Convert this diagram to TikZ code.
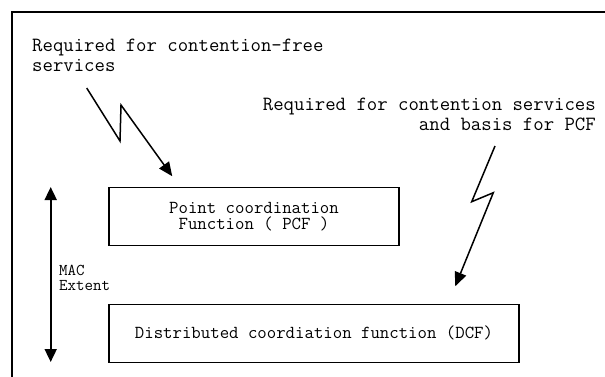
\documentclass[tikz,border=0pt]{standalone}
\usepackage{fontspec}
\usetikzlibrary{arrows.meta,calc}
\begin{document}
\begin{tikzpicture}[x=1pt,y=-1pt,
  lbl/.style={inner sep=0pt, font=\ttfamily\fontsize{20.2}{20}\selectfont},
  small/.style={inner sep=0pt, align=left, font=\ttfamily\fontsize{16.5}{15}\selectfont},
  fbox/.style={draw, line width=1.5pt, inner sep=0pt, align=center,
    font=\ttfamily\fontsize{18.3}{16.5}\selectfont},
  bolt/.style={line width=1.5pt, -{Triangle[length=14pt,width=12pt]}},
  extent/.style={line width=1.8pt, {Triangle[length=13pt,width=12pt]}-{Triangle[length=13pt,width=12pt]}}]
\useasboundingbox (0,0) rectangle (605,376);
% frame
\draw[line width=2pt] (12,377) -- (12,12) -- (606,12);
% labels
\node[lbl, anchor=base west] (l1a) at (32,51) {Required for contention-free};
\node[lbl, anchor=base west] (l1b) at (32,71) {services};
\node[lbl, anchor=base east] (l2a) at (596,110) {Required for contention services};
\node[lbl, anchor=base east] (l2b) at (596,130) {and basis for PCF};
% boxes
\node[fbox, minimum width=290pt, minimum height=58.4pt] (pcf) at (254,216.5)
  {Point coordination\\Function ( PCF )};
\node[fbox, minimum width=410pt, minimum height=58pt] (dcf) at (314,333.3)
  {Distributed coordiation function (DCF)};
% MAC extent
\coordinate (mtop) at (50.7,187);
\coordinate (mbot) at (50.7,362);
\draw[extent] (mtop) -- (mbot);
\node[small, anchor=north west] (mac) at (59,265) {MAC\\Extent};
% lightning arrows
\coordinate (a1s) at (86.7,88);
\coordinate (a1t) at ($(pcf.north west)+(64,-10.3)$);
\draw[bolt] (a1s) -- (120,141) -- (121,105) -- (a1t);
\coordinate (a2s) at (495,146);
\coordinate (a2t) at ($(dcf.north west)+(347,-17.3)$);
\draw[bolt] (a2s) -- (471.7,201.7) -- (493.3,192.7) -- (a2t);
\end{tikzpicture}
\end{document}
